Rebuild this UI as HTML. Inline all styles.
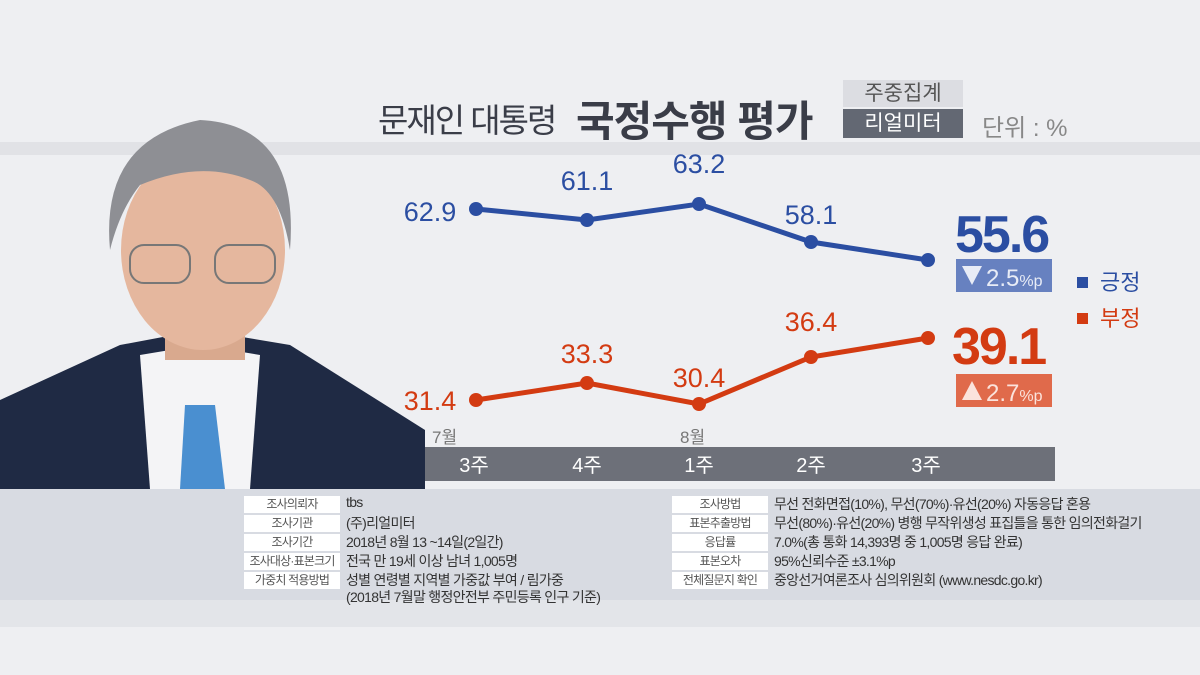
<!DOCTYPE html><html><head><meta charset="utf-8"><style>
body{margin:0;width:1200px;height:675px;overflow:hidden;background:#eeeff2;font-family:"Liberation Sans","Noto Sans CJK KR",sans-serif;}
.a{position:absolute;white-space:nowrap}
.lb{position:absolute;background:#fff;color:#555;font-size:12px;text-align:center;height:17px;line-height:17px;letter-spacing:-0.8px}
.tx{position:absolute;color:#333;font-size:14px;white-space:nowrap;letter-spacing:-0.7px}
</style></head><body>
<div class="a" style="left:0;top:142px;width:1200px;height:13px;background:#e1e2e6"></div>
<div class="a" style="left:378px;top:94px;font-size:33px;color:#3a3d48;letter-spacing:-2px">문재인 대통령</div>
<div class="a" style="left:576px;top:88px;font-size:42px;font-weight:bold;color:#3a3d48;letter-spacing:-1px">국정수행 평가</div>
<div class="a" style="left:843px;top:80px;width:120px;height:27px;background:#dcdde2;color:#555;font-size:21px;text-align:center;line-height:27px">주중집계</div>
<div class="a" style="left:843px;top:109px;width:120px;height:29px;background:#636873;color:#fff;font-size:21px;text-align:center;line-height:29px">리얼미터</div>
<div class="a" style="left:982px;top:108px;font-size:24px;color:#888">단위 : %</div>
<div class="a" style="left:425px;top:447px;width:630px;height:34px;background:#6d7079"></div>
<div class="a" style="left:0;top:489px;width:1200px;height:111px;background:#d8dbe2"></div>
<div class="a" style="left:0;top:600px;width:1200px;height:27px;background:#e3e5e9"></div>
<svg class="a" style="left:0;top:0" width="1200" height="675">
<g font-size="17" fill="#777"><text x="432" y="443">7월</text><text x="680" y="443">8월</text></g>
<g font-size="20" fill="#fff" text-anchor="middle"><text x="474" y="472">3주</text><text x="587" y="472">4주</text><text x="699" y="472">1주</text><text x="811" y="472">2주</text><text x="926" y="472">3주</text></g>
<polyline points="476,209 587,220 699,204 811,242 928,260" fill="none" stroke="#2b4ea2" stroke-width="5"/>
<polyline points="476,400 587,383 699,404 811,357 928,338" fill="none" stroke="#d33b12" stroke-width="5"/>
<g fill="#2b4ea2"><circle cx="476" cy="209" r="7"/><circle cx="587" cy="220" r="7"/><circle cx="699" cy="204" r="7"/><circle cx="811" cy="242" r="7"/><circle cx="928" cy="260" r="7"/></g>
<g fill="#d33b12"><circle cx="476" cy="400" r="7"/><circle cx="587" cy="383" r="7"/><circle cx="699" cy="404" r="7"/><circle cx="811" cy="357" r="7"/><circle cx="928" cy="338" r="7"/></g>
<g font-size="27" fill="#2b4ea2" text-anchor="middle"><text x="430" y="221">62.9</text><text x="587" y="190">61.1</text><text x="699" y="173">63.2</text><text x="811" y="224">58.1</text></g>
<g font-size="27" fill="#d33b12" text-anchor="middle"><text x="430" y="410">31.4</text><text x="587" y="363">33.3</text><text x="699" y="387">30.4</text><text x="811" y="331">36.4</text></g>
<text x="955" y="252" font-size="52" font-weight="bold" fill="#2b4ea2" letter-spacing="-2">55.6</text>
<rect x="956" y="259" width="96" height="33" fill="#6781c0"/>
<polygon points="962,266 982,266 972,285" fill="#e8ecf6"/>
<text x="986" y="286" font-size="24" fill="#e8ecf6">2.5<tspan font-size="16">%p</tspan></text>
<text x="952" y="364" font-size="52" font-weight="bold" fill="#d33b12" letter-spacing="-2">39.1</text>
<rect x="956" y="374" width="96" height="33" fill="#e06a4b"/>
<polygon points="962,400 982,400 972,381" fill="#fbe3dc"/>
<text x="986" y="401" font-size="24" fill="#fbe3dc">2.7<tspan font-size="16">%p</tspan></text>
<rect x="1077" y="277" width="11" height="11" fill="#2b4ea2"/><text x="1100" y="290" font-size="22" fill="#2b4ea2">긍정</text>
<rect x="1077" y="313" width="11" height="11" fill="#d33b12"/><text x="1100" y="326" font-size="22" fill="#d33b12">부정</text>
<path d="M0,400 L120,345 L200,330 L290,345 L425,430 L425,489 L0,489Z" fill="#1f2a44"/>
<path d="M140,355 L200,345 L260,355 L250,489 L150,489Z" fill="#f4f4f6"/>
<path d="M185,405 L215,405 L225,489 L180,489Z" fill="#4a8fd0"/>
<rect x="165" y="300" width="80" height="60" fill="#d9a98e"/>
<ellipse cx="203" cy="250" rx="82" ry="100" fill="#e5b79e"/>
<path d="M110,250 Q100,140 200,120 Q300,125 290,250 Q280,190 250,180 Q200,160 140,185 Q120,210 110,250Z" fill="#8e8f94"/>
<g fill="none" stroke="#777" stroke-width="2"><rect x="130" y="245" width="60" height="38" rx="14"/><rect x="215" y="245" width="60" height="38" rx="14"/></g>
</svg>
<div class="lb" style="left:244px;top:496px;width:96px">조사의뢰자</div><div class="tx" style="left:346px;top:494px">tbs</div>
<div class="lb" style="left:244px;top:515px;width:96px">조사기관</div><div class="tx" style="left:346px;top:513px">(주)리얼미터</div>
<div class="lb" style="left:244px;top:534px;width:96px">조사기간</div><div class="tx" style="left:346px;top:532px">2018년 8월 13 ~14일(2일간)</div>
<div class="lb" style="left:244px;top:553px;width:96px">조사대상·표본크기</div><div class="tx" style="left:346px;top:551px">전국 만 19세 이상 남녀 1,005명</div>
<div class="lb" style="left:244px;top:572px;width:96px">가중치 적용방법</div><div class="tx" style="left:346px;top:570px">성별 연령별 지역별 가중값 부여 / 림가중</div>
<div class="tx" style="left:346px;top:587px">(2018년 7월말 행정안전부 주민등록 인구 기준)</div>
<div class="lb" style="left:672px;top:496px;width:96px">조사방법</div><div class="tx" style="left:774px;top:494px">무선 전화면접(10%), 무선(70%)·유선(20%) 자동응답 혼용</div>
<div class="lb" style="left:672px;top:515px;width:96px">표본추출방법</div><div class="tx" style="left:774px;top:513px">무선(80%)·유선(20%) 병행 무작위생성 표집틀을 통한 임의전화걸기</div>
<div class="lb" style="left:672px;top:534px;width:96px">응답률</div><div class="tx" style="left:774px;top:532px">7.0%(총 통화 14,393명 중 1,005명 응답 완료)</div>
<div class="lb" style="left:672px;top:553px;width:96px">표본오차</div><div class="tx" style="left:774px;top:551px">95%신뢰수준 ±3.1%p</div>
<div class="lb" style="left:672px;top:572px;width:96px">전체질문지 확인</div><div class="tx" style="left:774px;top:570px">중앙선거여론조사 심의위원회 (www.nesdc.go.kr)</div>
</body></html>
